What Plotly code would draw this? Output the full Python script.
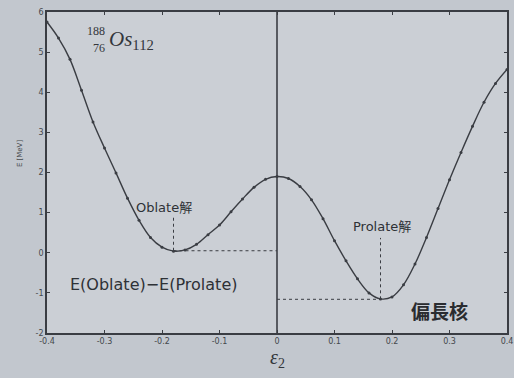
import plotly.graph_objects as go

eps2 = [-0.40, -0.38, -0.36, -0.34, -0.32, -0.30, -0.28, -0.26, -0.24, -0.22,
        -0.20, -0.18, -0.16, -0.14, -0.12, -0.10, -0.08, -0.06, -0.04, -0.02,
        0.00, 0.02, 0.04, 0.06, 0.08, 0.10, 0.12, 0.14, 0.16, 0.18,
        0.20, 0.22, 0.24, 0.26, 0.28, 0.30, 0.32, 0.34, 0.36, 0.38, 0.40]
energy = [5.75, 5.35, 4.82, 4.05, 3.26, 2.61, 1.99, 1.36, 0.81, 0.38,
          0.14, 0.04, 0.07, 0.21, 0.45, 0.69, 1.02, 1.34, 1.63, 1.83,
          1.90, 1.85, 1.65, 1.32, 0.85, 0.30, -0.20, -0.65, -1.00, -1.15,
          -1.10, -0.80, -0.28, 0.38, 1.10, 1.82, 2.50, 3.15, 3.75, 4.22, 4.57]

oblate_min = (-0.18, 0.05)
prolate_min = (0.18, -1.16)
oblate_guide_top = 0.93
prolate_guide_top = 0.37

x_ticks = [-0.4, -0.3, -0.2, -0.1, 0, 0.1, 0.2, 0.3, 0.4]
x_tick_labels = ["-0.4", "-0.3", "-0.2", "-0.1", "0", "0.1", "0.2", "0.3", "0.4"]
y_ticks = [-2, -1, 0, 1, 2, 3, 4, 5, 6]
y_tick_labels = ["-2", "-1", "0", "1", "2", "3", "4", "5", "6"]

ink = "#3a3d43"
fig = go.Figure()

# dashed guides
fig.add_trace(go.Scatter(x=[oblate_min[0], oblate_min[0], None, oblate_min[0], 0],
                         y=[oblate_min[1], oblate_guide_top, None, oblate_min[1], oblate_min[1]],
                         mode="lines", line=dict(color=ink, width=1, dash="dot"),
                         hoverinfo="skip", showlegend=False))
fig.add_trace(go.Scatter(x=[prolate_min[0], prolate_min[0], None, 0, prolate_min[0]],
                         y=[prolate_min[1], prolate_guide_top, None, prolate_min[1], prolate_min[1]],
                         mode="lines", line=dict(color=ink, width=1, dash="dot"),
                         hoverinfo="skip", showlegend=False))
# x = 0 line
fig.add_trace(go.Scatter(x=[0, 0], y=[-2, 6], mode="lines",
                         line=dict(color=ink, width=1.6), hoverinfo="skip", showlegend=False))
# curve
fig.add_trace(go.Scatter(x=eps2, y=energy, mode="lines+markers",
                         line=dict(color=ink, width=1.4, shape="spline"),
                         marker=dict(color=ink, size=3), showlegend=False))

txt_font = dict(family="DejaVu Sans, Noto Sans CJK JP", color="#2e3136")
fig.add_annotation(x=-0.197, y=1.12, text="Oblate解", showarrow=False,
                   font=dict(size=13, **txt_font))
fig.add_annotation(x=0.183, y=0.65, text="Prolate解", showarrow=False,
                   font=dict(size=13, **txt_font))
fig.add_annotation(x=-0.214, y=-0.8, text="E(Oblate)−E(Prolate)", showarrow=False,
                   font=dict(size=16, **txt_font))
fig.add_annotation(x=0.282, y=-1.45, text="<b>偏長核</b>", showarrow=False,
                   font=dict(size=19, family="Noto Sans CJK JP", color="#2a2c30"))
serif = dict(family="Liberation Serif", color="#33363b")
fig.add_annotation(x=-0.296, y=5.52, text="188", showarrow=False, xanchor="right",
                   font=dict(size=12, **serif))
fig.add_annotation(x=-0.296, y=5.1, text="76", showarrow=False, xanchor="right",
                   font=dict(size=12, **serif))
fig.add_annotation(x=-0.296, y=5.3, text="<i>Os</i><sub>112</sub>", showarrow=False,
                   xanchor="left", font=dict(size=21, **serif))

# axis titles
fig.add_annotation(xref="paper", yref="paper", x=0.5, y=-0.035, yanchor="top",
                   text="<i>ε</i><sub>2</sub>", showarrow=False,
                   font=dict(size=20, **serif))
fig.add_annotation(xref="paper", yref="paper", x=-0.072, y=0.56, textangle=-90,
                   text="E [MeV]", showarrow=False,
                   font=dict(size=7, color="#44474c", family="DejaVu Sans"))

axis_common = dict(showline=True, linecolor=ink, linewidth=1.6, mirror="ticks",
                   ticks="inside", ticklen=3, tickcolor=ink, showgrid=False,
                   zeroline=False, automargin=False,
                   tickfont=dict(size=8, color="#44474c", family="DejaVu Sans"))
fig.update_xaxes(range=[-0.4, 0.4], tickvals=x_ticks, ticktext=x_tick_labels, **axis_common)
fig.update_yaxes(range=[-2, 6], tickvals=y_ticks, ticktext=y_tick_labels, **axis_common)

fig.update_layout(width=514, height=378, margin=dict(l=47, r=7, t=12, b=45),
                  paper_bgcolor="#c2c7ce", plot_bgcolor="#cbcfd5")
fig.write_html("out.html", config={"displayModeBar": False},
               post_script="document.body.style.margin='0';document.body.style.background='#c2c7ce';")
